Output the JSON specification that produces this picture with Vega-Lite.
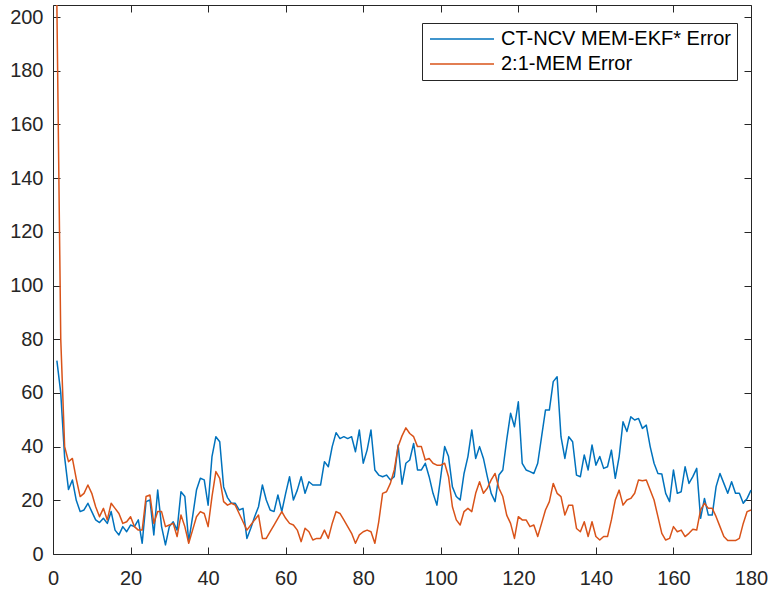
{
  "$schema": "https://vega.github.io/schema/vega-lite/v6.json",
  "width": 698,
  "height": 549,
  "autosize": {"type": "none"},
  "padding": {"left": 53, "top": 5, "right": 17, "bottom": 36},
  "background": "white",
  "config": {
    "view": {"stroke": null},
    "font": "Liberation Sans",
    "axis": {
      "grid": false,
      "title": null,
      "labelFlush": false,
      "labelOverlap": false,
      "domainColor": "#262626",
      "domainWidth": 1,
      "tickColor": "#262626",
      "tickWidth": 1,
      "tickSize": -7,
      "labelColor": "#262626",
      "labelFont": "Liberation Sans",
      "labelFontSize": 20
    }
  },
  "datasets": {
    "err": [
      {"t":1,"err":72,"series":"CT-NCV MEM-EKF* Error"},{"t":2,"err":60,"series":"CT-NCV MEM-EKF* Error"},{"t":3,"err":36,"series":"CT-NCV MEM-EKF* Error"},{"t":4,"err":24,"series":"CT-NCV MEM-EKF* Error"},{"t":5,"err":27.6,"series":"CT-NCV MEM-EKF* Error"},{"t":6,"err":20,"series":"CT-NCV MEM-EKF* Error"},{"t":7,"err":15.8,"series":"CT-NCV MEM-EKF* Error"},{"t":8,"err":16.4,"series":"CT-NCV MEM-EKF* Error"},{"t":9,"err":18.9,"series":"CT-NCV MEM-EKF* Error"},{"t":10,"err":15.8,"series":"CT-NCV MEM-EKF* Error"},
      {"t":11,"err":12.7,"series":"CT-NCV MEM-EKF* Error"},{"t":12,"err":11.7,"series":"CT-NCV MEM-EKF* Error"},{"t":13,"err":13.3,"series":"CT-NCV MEM-EKF* Error"},{"t":14,"err":11.4,"series":"CT-NCV MEM-EKF* Error"},{"t":15,"err":15.8,"series":"CT-NCV MEM-EKF* Error"},{"t":16,"err":8.9,"series":"CT-NCV MEM-EKF* Error"},{"t":17,"err":7.1,"series":"CT-NCV MEM-EKF* Error"},{"t":18,"err":10.2,"series":"CT-NCV MEM-EKF* Error"},{"t":19,"err":8.3,"series":"CT-NCV MEM-EKF* Error"},{"t":20,"err":10.8,"series":"CT-NCV MEM-EKF* Error"},
      {"t":21,"err":10.2,"series":"CT-NCV MEM-EKF* Error"},{"t":22,"err":12.7,"series":"CT-NCV MEM-EKF* Error"},{"t":23,"err":4,"series":"CT-NCV MEM-EKF* Error"},{"t":24,"err":19.5,"series":"CT-NCV MEM-EKF* Error"},{"t":25,"err":20.1,"series":"CT-NCV MEM-EKF* Error"},{"t":26,"err":7.1,"series":"CT-NCV MEM-EKF* Error"},{"t":27,"err":23.8,"series":"CT-NCV MEM-EKF* Error"},{"t":28,"err":10.2,"series":"CT-NCV MEM-EKF* Error"},{"t":29,"err":3.4,"series":"CT-NCV MEM-EKF* Error"},{"t":30,"err":10.2,"series":"CT-NCV MEM-EKF* Error"},
      {"t":31,"err":12,"series":"CT-NCV MEM-EKF* Error"},{"t":32,"err":8.9,"series":"CT-NCV MEM-EKF* Error"},{"t":33,"err":23.2,"series":"CT-NCV MEM-EKF* Error"},{"t":34,"err":21.4,"series":"CT-NCV MEM-EKF* Error"},{"t":35,"err":4.6,"series":"CT-NCV MEM-EKF* Error"},{"t":36,"err":13.9,"series":"CT-NCV MEM-EKF* Error"},{"t":37,"err":23.8,"series":"CT-NCV MEM-EKF* Error"},{"t":38,"err":28.2,"series":"CT-NCV MEM-EKF* Error"},{"t":39,"err":27.6,"series":"CT-NCV MEM-EKF* Error"},{"t":40,"err":18.2,"series":"CT-NCV MEM-EKF* Error"},
      {"t":41,"err":36.3,"series":"CT-NCV MEM-EKF* Error"},{"t":42,"err":43.7,"series":"CT-NCV MEM-EKF* Error"},{"t":43,"err":41.8,"series":"CT-NCV MEM-EKF* Error"},{"t":44,"err":25,"series":"CT-NCV MEM-EKF* Error"},{"t":45,"err":21,"series":"CT-NCV MEM-EKF* Error"},{"t":46,"err":18.9,"series":"CT-NCV MEM-EKF* Error"},{"t":47,"err":18.9,"series":"CT-NCV MEM-EKF* Error"},{"t":48,"err":16.4,"series":"CT-NCV MEM-EKF* Error"},{"t":49,"err":17,"series":"CT-NCV MEM-EKF* Error"},{"t":50,"err":5.8,"series":"CT-NCV MEM-EKF* Error"},
      {"t":51,"err":9.6,"series":"CT-NCV MEM-EKF* Error"},{"t":52,"err":13.9,"series":"CT-NCV MEM-EKF* Error"},{"t":53,"err":17.6,"series":"CT-NCV MEM-EKF* Error"},{"t":54,"err":25.7,"series":"CT-NCV MEM-EKF* Error"},{"t":55,"err":20.1,"series":"CT-NCV MEM-EKF* Error"},{"t":56,"err":16.4,"series":"CT-NCV MEM-EKF* Error"},{"t":57,"err":15.8,"series":"CT-NCV MEM-EKF* Error"},{"t":58,"err":22,"series":"CT-NCV MEM-EKF* Error"},{"t":59,"err":15.8,"series":"CT-NCV MEM-EKF* Error"},{"t":60,"err":22.6,"series":"CT-NCV MEM-EKF* Error"},
      {"t":61,"err":28.8,"series":"CT-NCV MEM-EKF* Error"},{"t":62,"err":20.1,"series":"CT-NCV MEM-EKF* Error"},{"t":63,"err":23.8,"series":"CT-NCV MEM-EKF* Error"},{"t":64,"err":28.8,"series":"CT-NCV MEM-EKF* Error"},{"t":65,"err":22.6,"series":"CT-NCV MEM-EKF* Error"},{"t":66,"err":26.9,"series":"CT-NCV MEM-EKF* Error"},{"t":67,"err":25.7,"series":"CT-NCV MEM-EKF* Error"},{"t":68,"err":25.7,"series":"CT-NCV MEM-EKF* Error"},{"t":69,"err":25.7,"series":"CT-NCV MEM-EKF* Error"},{"t":70,"err":34.4,"series":"CT-NCV MEM-EKF* Error"},
      {"t":71,"err":32.5,"series":"CT-NCV MEM-EKF* Error"},{"t":72,"err":40,"series":"CT-NCV MEM-EKF* Error"},{"t":73,"err":45.2,"series":"CT-NCV MEM-EKF* Error"},{"t":74,"err":43,"series":"CT-NCV MEM-EKF* Error"},{"t":75,"err":43.7,"series":"CT-NCV MEM-EKF* Error"},{"t":76,"err":43,"series":"CT-NCV MEM-EKF* Error"},{"t":77,"err":43.7,"series":"CT-NCV MEM-EKF* Error"},{"t":78,"err":38.1,"series":"CT-NCV MEM-EKF* Error"},{"t":79,"err":46.2,"series":"CT-NCV MEM-EKF* Error"},{"t":80,"err":33.8,"series":"CT-NCV MEM-EKF* Error"},
      {"t":81,"err":38.7,"series":"CT-NCV MEM-EKF* Error"},{"t":82,"err":46.2,"series":"CT-NCV MEM-EKF* Error"},{"t":83,"err":31.3,"series":"CT-NCV MEM-EKF* Error"},{"t":84,"err":29.4,"series":"CT-NCV MEM-EKF* Error"},{"t":85,"err":28.8,"series":"CT-NCV MEM-EKF* Error"},{"t":86,"err":29.4,"series":"CT-NCV MEM-EKF* Error"},{"t":87,"err":27.6,"series":"CT-NCV MEM-EKF* Error"},{"t":88,"err":28.8,"series":"CT-NCV MEM-EKF* Error"},{"t":89,"err":40.6,"series":"CT-NCV MEM-EKF* Error"},{"t":90,"err":26,"series":"CT-NCV MEM-EKF* Error"},
      {"t":91,"err":33.8,"series":"CT-NCV MEM-EKF* Error"},{"t":92,"err":35,"series":"CT-NCV MEM-EKF* Error"},{"t":93,"err":41.2,"series":"CT-NCV MEM-EKF* Error"},{"t":94,"err":31.3,"series":"CT-NCV MEM-EKF* Error"},{"t":95,"err":31.3,"series":"CT-NCV MEM-EKF* Error"},{"t":96,"err":33.8,"series":"CT-NCV MEM-EKF* Error"},{"t":97,"err":28.8,"series":"CT-NCV MEM-EKF* Error"},{"t":98,"err":22.6,"series":"CT-NCV MEM-EKF* Error"},{"t":99,"err":18.2,"series":"CT-NCV MEM-EKF* Error"},{"t":100,"err":28.8,"series":"CT-NCV MEM-EKF* Error"},
      {"t":101,"err":40,"series":"CT-NCV MEM-EKF* Error"},{"t":102,"err":36.3,"series":"CT-NCV MEM-EKF* Error"},{"t":103,"err":25,"series":"CT-NCV MEM-EKF* Error"},{"t":104,"err":21.4,"series":"CT-NCV MEM-EKF* Error"},{"t":105,"err":20.1,"series":"CT-NCV MEM-EKF* Error"},{"t":106,"err":30,"series":"CT-NCV MEM-EKF* Error"},{"t":107,"err":36.3,"series":"CT-NCV MEM-EKF* Error"},{"t":108,"err":46.2,"series":"CT-NCV MEM-EKF* Error"},{"t":109,"err":35.6,"series":"CT-NCV MEM-EKF* Error"},{"t":110,"err":40,"series":"CT-NCV MEM-EKF* Error"},
      {"t":111,"err":35.6,"series":"CT-NCV MEM-EKF* Error"},{"t":112,"err":28.8,"series":"CT-NCV MEM-EKF* Error"},{"t":113,"err":22.6,"series":"CT-NCV MEM-EKF* Error"},{"t":114,"err":19.5,"series":"CT-NCV MEM-EKF* Error"},{"t":115,"err":29.4,"series":"CT-NCV MEM-EKF* Error"},{"t":116,"err":31.3,"series":"CT-NCV MEM-EKF* Error"},{"t":117,"err":42.5,"series":"CT-NCV MEM-EKF* Error"},{"t":118,"err":52.4,"series":"CT-NCV MEM-EKF* Error"},{"t":119,"err":47.4,"series":"CT-NCV MEM-EKF* Error"},{"t":120,"err":56.7,"series":"CT-NCV MEM-EKF* Error"},
      {"t":121,"err":33.8,"series":"CT-NCV MEM-EKF* Error"},{"t":122,"err":31.3,"series":"CT-NCV MEM-EKF* Error"},{"t":123,"err":30.7,"series":"CT-NCV MEM-EKF* Error"},{"t":124,"err":30,"series":"CT-NCV MEM-EKF* Error"},{"t":125,"err":33.8,"series":"CT-NCV MEM-EKF* Error"},{"t":126,"err":43.7,"series":"CT-NCV MEM-EKF* Error"},{"t":127,"err":53.6,"series":"CT-NCV MEM-EKF* Error"},{"t":128,"err":53.6,"series":"CT-NCV MEM-EKF* Error"},{"t":129,"err":64.2,"series":"CT-NCV MEM-EKF* Error"},{"t":130,"err":66,"series":"CT-NCV MEM-EKF* Error"},
      {"t":131,"err":43.7,"series":"CT-NCV MEM-EKF* Error"},{"t":132,"err":35.6,"series":"CT-NCV MEM-EKF* Error"},{"t":133,"err":43.7,"series":"CT-NCV MEM-EKF* Error"},{"t":134,"err":41.8,"series":"CT-NCV MEM-EKF* Error"},{"t":135,"err":29.4,"series":"CT-NCV MEM-EKF* Error"},{"t":136,"err":28.8,"series":"CT-NCV MEM-EKF* Error"},{"t":137,"err":36.9,"series":"CT-NCV MEM-EKF* Error"},{"t":138,"err":31.3,"series":"CT-NCV MEM-EKF* Error"},{"t":139,"err":40.6,"series":"CT-NCV MEM-EKF* Error"},{"t":140,"err":33.1,"series":"CT-NCV MEM-EKF* Error"},
      {"t":141,"err":36.3,"series":"CT-NCV MEM-EKF* Error"},{"t":142,"err":31.9,"series":"CT-NCV MEM-EKF* Error"},{"t":143,"err":32.5,"series":"CT-NCV MEM-EKF* Error"},{"t":144,"err":38.7,"series":"CT-NCV MEM-EKF* Error"},{"t":145,"err":28.2,"series":"CT-NCV MEM-EKF* Error"},{"t":146,"err":36.3,"series":"CT-NCV MEM-EKF* Error"},{"t":147,"err":49.3,"series":"CT-NCV MEM-EKF* Error"},{"t":148,"err":45.6,"series":"CT-NCV MEM-EKF* Error"},{"t":149,"err":51.1,"series":"CT-NCV MEM-EKF* Error"},{"t":150,"err":49.9,"series":"CT-NCV MEM-EKF* Error"},
      {"t":151,"err":50.5,"series":"CT-NCV MEM-EKF* Error"},{"t":152,"err":46.8,"series":"CT-NCV MEM-EKF* Error"},{"t":153,"err":48,"series":"CT-NCV MEM-EKF* Error"},{"t":154,"err":40,"series":"CT-NCV MEM-EKF* Error"},{"t":155,"err":33.8,"series":"CT-NCV MEM-EKF* Error"},{"t":156,"err":30,"series":"CT-NCV MEM-EKF* Error"},{"t":157,"err":29.8,"series":"CT-NCV MEM-EKF* Error"},{"t":158,"err":22.6,"series":"CT-NCV MEM-EKF* Error"},{"t":159,"err":19.5,"series":"CT-NCV MEM-EKF* Error"},{"t":160,"err":31.3,"series":"CT-NCV MEM-EKF* Error"},
      {"t":161,"err":22.6,"series":"CT-NCV MEM-EKF* Error"},{"t":162,"err":23.2,"series":"CT-NCV MEM-EKF* Error"},{"t":163,"err":32.5,"series":"CT-NCV MEM-EKF* Error"},{"t":164,"err":26.3,"series":"CT-NCV MEM-EKF* Error"},{"t":165,"err":28.8,"series":"CT-NCV MEM-EKF* Error"},{"t":166,"err":31.9,"series":"CT-NCV MEM-EKF* Error"},{"t":167,"err":13.3,"series":"CT-NCV MEM-EKF* Error"},{"t":168,"err":20.7,"series":"CT-NCV MEM-EKF* Error"},{"t":169,"err":14.5,"series":"CT-NCV MEM-EKF* Error"},{"t":170,"err":14.5,"series":"CT-NCV MEM-EKF* Error"},
      {"t":171,"err":25.1,"series":"CT-NCV MEM-EKF* Error"},{"t":172,"err":30,"series":"CT-NCV MEM-EKF* Error"},{"t":173,"err":26.3,"series":"CT-NCV MEM-EKF* Error"},{"t":174,"err":22.6,"series":"CT-NCV MEM-EKF* Error"},{"t":175,"err":26.9,"series":"CT-NCV MEM-EKF* Error"},{"t":176,"err":22.6,"series":"CT-NCV MEM-EKF* Error"},{"t":177,"err":22.6,"series":"CT-NCV MEM-EKF* Error"},{"t":178,"err":18.9,"series":"CT-NCV MEM-EKF* Error"},{"t":179,"err":20.7,"series":"CT-NCV MEM-EKF* Error"},{"t":180,"err":23.8,"series":"CT-NCV MEM-EKF* Error"},

      {"t":1,"err":204.5,"series":"2:1-MEM Error"},{"t":2,"err":80,"series":"2:1-MEM Error"},{"t":3,"err":40,"series":"2:1-MEM Error"},{"t":4,"err":34.4,"series":"2:1-MEM Error"},{"t":5,"err":35.6,"series":"2:1-MEM Error"},{"t":6,"err":28,"series":"2:1-MEM Error"},{"t":7,"err":21.4,"series":"2:1-MEM Error"},{"t":8,"err":22.6,"series":"2:1-MEM Error"},{"t":9,"err":25.7,"series":"2:1-MEM Error"},{"t":10,"err":22.6,"series":"2:1-MEM Error"},
      {"t":11,"err":17.6,"series":"2:1-MEM Error"},{"t":12,"err":13.9,"series":"2:1-MEM Error"},{"t":13,"err":17,"series":"2:1-MEM Error"},{"t":14,"err":12.7,"series":"2:1-MEM Error"},{"t":15,"err":18.9,"series":"2:1-MEM Error"},{"t":16,"err":17,"series":"2:1-MEM Error"},{"t":17,"err":15.1,"series":"2:1-MEM Error"},{"t":18,"err":11.4,"series":"2:1-MEM Error"},{"t":19,"err":12,"series":"2:1-MEM Error"},{"t":20,"err":13.9,"series":"2:1-MEM Error"},
      {"t":21,"err":10.2,"series":"2:1-MEM Error"},{"t":22,"err":8.9,"series":"2:1-MEM Error"},{"t":23,"err":8.9,"series":"2:1-MEM Error"},{"t":24,"err":21.4,"series":"2:1-MEM Error"},{"t":25,"err":22,"series":"2:1-MEM Error"},{"t":26,"err":11.4,"series":"2:1-MEM Error"},{"t":27,"err":15.8,"series":"2:1-MEM Error"},{"t":28,"err":15.8,"series":"2:1-MEM Error"},{"t":29,"err":10.2,"series":"2:1-MEM Error"},{"t":30,"err":10.8,"series":"2:1-MEM Error"},
      {"t":31,"err":11.4,"series":"2:1-MEM Error"},{"t":32,"err":6.5,"series":"2:1-MEM Error"},{"t":33,"err":14.5,"series":"2:1-MEM Error"},{"t":34,"err":10.2,"series":"2:1-MEM Error"},{"t":35,"err":4,"series":"2:1-MEM Error"},{"t":36,"err":8.9,"series":"2:1-MEM Error"},{"t":37,"err":13.9,"series":"2:1-MEM Error"},{"t":38,"err":15.8,"series":"2:1-MEM Error"},{"t":39,"err":15.1,"series":"2:1-MEM Error"},{"t":40,"err":10.2,"series":"2:1-MEM Error"},
      {"t":41,"err":21.4,"series":"2:1-MEM Error"},{"t":42,"err":30.7,"series":"2:1-MEM Error"},{"t":43,"err":28.2,"series":"2:1-MEM Error"},{"t":44,"err":19.5,"series":"2:1-MEM Error"},{"t":45,"err":18.2,"series":"2:1-MEM Error"},{"t":46,"err":18.9,"series":"2:1-MEM Error"},{"t":47,"err":18.2,"series":"2:1-MEM Error"},{"t":48,"err":15.1,"series":"2:1-MEM Error"},{"t":49,"err":12,"series":"2:1-MEM Error"},{"t":50,"err":8.9,"series":"2:1-MEM Error"},
      {"t":51,"err":10.8,"series":"2:1-MEM Error"},{"t":52,"err":12.7,"series":"2:1-MEM Error"},{"t":53,"err":14.5,"series":"2:1-MEM Error"},{"t":54,"err":5.8,"series":"2:1-MEM Error"},{"t":55,"err":5.8,"series":"2:1-MEM Error"},{"t":56,"err":8.3,"series":"2:1-MEM Error"},{"t":57,"err":10.8,"series":"2:1-MEM Error"},{"t":58,"err":13.3,"series":"2:1-MEM Error"},{"t":59,"err":15.8,"series":"2:1-MEM Error"},{"t":60,"err":13.3,"series":"2:1-MEM Error"},
      {"t":61,"err":11.4,"series":"2:1-MEM Error"},{"t":62,"err":10.8,"series":"2:1-MEM Error"},{"t":63,"err":8.9,"series":"2:1-MEM Error"},{"t":64,"err":4.6,"series":"2:1-MEM Error"},{"t":65,"err":9.6,"series":"2:1-MEM Error"},{"t":66,"err":8.3,"series":"2:1-MEM Error"},{"t":67,"err":5.2,"series":"2:1-MEM Error"},{"t":68,"err":5.8,"series":"2:1-MEM Error"},{"t":69,"err":5.8,"series":"2:1-MEM Error"},{"t":70,"err":8.9,"series":"2:1-MEM Error"},
      {"t":71,"err":5.8,"series":"2:1-MEM Error"},{"t":72,"err":11.4,"series":"2:1-MEM Error"},{"t":73,"err":15.8,"series":"2:1-MEM Error"},{"t":74,"err":15.1,"series":"2:1-MEM Error"},{"t":75,"err":12.7,"series":"2:1-MEM Error"},{"t":76,"err":10.2,"series":"2:1-MEM Error"},{"t":77,"err":7.7,"series":"2:1-MEM Error"},{"t":78,"err":4,"series":"2:1-MEM Error"},{"t":79,"err":7.1,"series":"2:1-MEM Error"},{"t":80,"err":8.3,"series":"2:1-MEM Error"},
      {"t":81,"err":8.9,"series":"2:1-MEM Error"},{"t":82,"err":8.3,"series":"2:1-MEM Error"},{"t":83,"err":4,"series":"2:1-MEM Error"},{"t":84,"err":12,"series":"2:1-MEM Error"},{"t":85,"err":22.6,"series":"2:1-MEM Error"},{"t":86,"err":23.2,"series":"2:1-MEM Error"},{"t":87,"err":26.3,"series":"2:1-MEM Error"},{"t":88,"err":31.3,"series":"2:1-MEM Error"},{"t":89,"err":40,"series":"2:1-MEM Error"},{"t":90,"err":44,"series":"2:1-MEM Error"},
      {"t":91,"err":47,"series":"2:1-MEM Error"},{"t":92,"err":44.9,"series":"2:1-MEM Error"},{"t":93,"err":43.7,"series":"2:1-MEM Error"},{"t":94,"err":40,"series":"2:1-MEM Error"},{"t":95,"err":40,"series":"2:1-MEM Error"},{"t":96,"err":35,"series":"2:1-MEM Error"},{"t":97,"err":35.6,"series":"2:1-MEM Error"},{"t":98,"err":33.8,"series":"2:1-MEM Error"},{"t":99,"err":33.1,"series":"2:1-MEM Error"},{"t":100,"err":33.1,"series":"2:1-MEM Error"},
      {"t":101,"err":33.8,"series":"2:1-MEM Error"},{"t":102,"err":28.8,"series":"2:1-MEM Error"},{"t":103,"err":17.6,"series":"2:1-MEM Error"},{"t":104,"err":12.7,"series":"2:1-MEM Error"},{"t":105,"err":10.8,"series":"2:1-MEM Error"},{"t":106,"err":15.8,"series":"2:1-MEM Error"},{"t":107,"err":17,"series":"2:1-MEM Error"},{"t":108,"err":15.8,"series":"2:1-MEM Error"},{"t":109,"err":22.6,"series":"2:1-MEM Error"},{"t":110,"err":26.9,"series":"2:1-MEM Error"},
      {"t":111,"err":22.6,"series":"2:1-MEM Error"},{"t":112,"err":24.5,"series":"2:1-MEM Error"},{"t":113,"err":27.6,"series":"2:1-MEM Error"},{"t":114,"err":30,"series":"2:1-MEM Error"},{"t":115,"err":24.5,"series":"2:1-MEM Error"},{"t":116,"err":21.4,"series":"2:1-MEM Error"},{"t":117,"err":14.5,"series":"2:1-MEM Error"},{"t":118,"err":11.4,"series":"2:1-MEM Error"},{"t":119,"err":5.8,"series":"2:1-MEM Error"},{"t":120,"err":13.9,"series":"2:1-MEM Error"},
      {"t":121,"err":12.7,"series":"2:1-MEM Error"},{"t":122,"err":12.7,"series":"2:1-MEM Error"},{"t":123,"err":10.2,"series":"2:1-MEM Error"},{"t":124,"err":10.8,"series":"2:1-MEM Error"},{"t":125,"err":6.5,"series":"2:1-MEM Error"},{"t":126,"err":11.4,"series":"2:1-MEM Error"},{"t":127,"err":16.4,"series":"2:1-MEM Error"},{"t":128,"err":19.5,"series":"2:1-MEM Error"},{"t":129,"err":26.3,"series":"2:1-MEM Error"},{"t":130,"err":22.6,"series":"2:1-MEM Error"},
      {"t":131,"err":21.4,"series":"2:1-MEM Error"},{"t":132,"err":14.5,"series":"2:1-MEM Error"},{"t":133,"err":18.2,"series":"2:1-MEM Error"},{"t":134,"err":18.2,"series":"2:1-MEM Error"},{"t":135,"err":9.5,"series":"2:1-MEM Error"},{"t":136,"err":8.3,"series":"2:1-MEM Error"},{"t":137,"err":12,"series":"2:1-MEM Error"},{"t":138,"err":6.5,"series":"2:1-MEM Error"},{"t":139,"err":12,"series":"2:1-MEM Error"},{"t":140,"err":6.5,"series":"2:1-MEM Error"},
      {"t":141,"err":5.2,"series":"2:1-MEM Error"},{"t":142,"err":6.5,"series":"2:1-MEM Error"},{"t":143,"err":6.5,"series":"2:1-MEM Error"},{"t":144,"err":12.7,"series":"2:1-MEM Error"},{"t":145,"err":20.1,"series":"2:1-MEM Error"},{"t":146,"err":23.8,"series":"2:1-MEM Error"},{"t":147,"err":18.2,"series":"2:1-MEM Error"},{"t":148,"err":20.1,"series":"2:1-MEM Error"},{"t":149,"err":20.7,"series":"2:1-MEM Error"},{"t":150,"err":22.6,"series":"2:1-MEM Error"},
      {"t":151,"err":27.6,"series":"2:1-MEM Error"},{"t":152,"err":27.3,"series":"2:1-MEM Error"},{"t":153,"err":27.6,"series":"2:1-MEM Error"},{"t":154,"err":23.8,"series":"2:1-MEM Error"},{"t":155,"err":20.1,"series":"2:1-MEM Error"},{"t":156,"err":13.9,"series":"2:1-MEM Error"},{"t":157,"err":7.7,"series":"2:1-MEM Error"},{"t":158,"err":5.2,"series":"2:1-MEM Error"},{"t":159,"err":5.8,"series":"2:1-MEM Error"},{"t":160,"err":10.2,"series":"2:1-MEM Error"},
      {"t":161,"err":8.3,"series":"2:1-MEM Error"},{"t":162,"err":8.9,"series":"2:1-MEM Error"},{"t":163,"err":6.5,"series":"2:1-MEM Error"},{"t":164,"err":7.7,"series":"2:1-MEM Error"},{"t":165,"err":9.2,"series":"2:1-MEM Error"},{"t":166,"err":8.9,"series":"2:1-MEM Error"},{"t":167,"err":16.4,"series":"2:1-MEM Error"},{"t":168,"err":18.9,"series":"2:1-MEM Error"},{"t":169,"err":17,"series":"2:1-MEM Error"},{"t":170,"err":17,"series":"2:1-MEM Error"},
      {"t":171,"err":13.9,"series":"2:1-MEM Error"},{"t":172,"err":10.2,"series":"2:1-MEM Error"},{"t":173,"err":6.5,"series":"2:1-MEM Error"},{"t":174,"err":5,"series":"2:1-MEM Error"},{"t":175,"err":5,"series":"2:1-MEM Error"},{"t":176,"err":5,"series":"2:1-MEM Error"},{"t":177,"err":5.8,"series":"2:1-MEM Error"},{"t":178,"err":11.4,"series":"2:1-MEM Error"},{"t":179,"err":15.8,"series":"2:1-MEM Error"},{"t":180,"err":16.4,"series":"2:1-MEM Error"}
    ]
  },
  "data": {"name": "err"},
  "layer": [
    {
      "mark": {"type": "line", "strokeWidth": 1.5, "strokeJoin": "round"},
      "encoding": {
        "x": {
          "field": "t", "type": "quantitative",
          "scale": {"domain": [0, 180], "nice": false, "zero": false},
          "axis": {"orient": "bottom", "values": [0, 20, 40, 60, 80, 100, 120, 140, 160, 180], "labelPadding": 21}
        },
        "y": {
          "field": "err", "type": "quantitative",
          "scale": {"domain": [0, 204.5], "nice": false},
          "axis": {"orient": "left", "values": [0, 20, 40, 60, 80, 100, 120, 140, 160, 180, 200], "labelPadding": 17}
        },
        "color": {
          "field": "series", "type": "nominal",
          "scale": {"domain": ["CT-NCV MEM-EKF* Error", "2:1-MEM Error"], "range": ["#0072BD", "#D95319"]},
          "legend": {
            "orient": "none", "legendX": 369, "legendY": 18, "title": null,
            "symbolType": "M-4,0L4,0", "symbolSize": 256, "symbolStrokeWidth": 1.5,
            "symbolOffset": 24, "labelOffset": 29,
            "labelFont": "Liberation Sans", "labelFontSize": 20, "labelColor": "#000000", "labelLimit": 0,
            "strokeColor": "#262626", "fillColor": "white", "padding": 6, "rowPadding": 5, "cornerRadius": 0
          }
        }
      }
    },
    {
      "mark": {"type": "line", "opacity": 0},
      "encoding": {
        "x": {
          "field": "t", "type": "quantitative",
          "scale": {"domain": [0, 180], "nice": false, "zero": false},
          "axis": {"orient": "top", "labels": false, "values": [0, 20, 40, 60, 80, 100, 120, 140, 160, 180]}
        },
        "y": {
          "field": "err", "type": "quantitative",
          "scale": {"domain": [0, 204.5], "nice": false},
          "axis": {"orient": "right", "labels": false, "values": [0, 20, 40, 60, 80, 100, 120, 140, 160, 180, 200]}
        },
        "detail": {"field": "series"}
      }
    }
  ],
  "resolve": {"axis": {"x": "independent", "y": "independent"}}
}
